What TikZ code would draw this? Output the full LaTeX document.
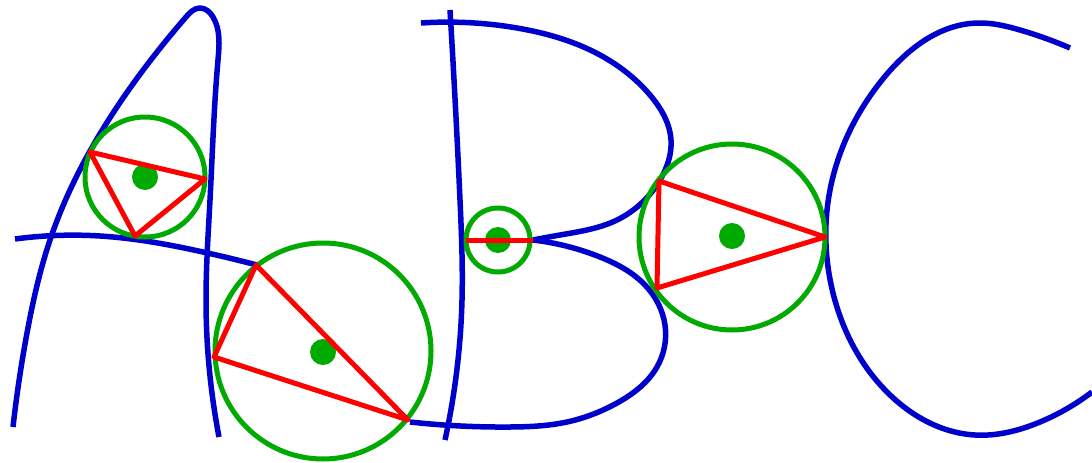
\documentclass[tikz,border=0pt]{standalone}
\usetikzlibrary{hobby}
\begin{document}
\begin{tikzpicture}[x=1pt,y=-1pt,line join=round]
\definecolor{lblue}{RGB}{0,0,205}
\definecolor{lgreen}{RGB}{0,170,0}
\definecolor{lred}{RGB}{255,0,0}
\tikzset{letter/.style={draw=lblue,line width=5.5pt,use Hobby shortcut},
  circ/.style={draw=lgreen,line width=5pt},
  dot/.style={fill=lgreen},
  tri/.style={draw=lred,line width=5pt}}
\useasboundingbox (0,0) rectangle (1092,463);
% Letter A
\draw[letter] (13,427) .. (27,333) .. (50,240) .. (117,107) .. (186,17) .. (200,8) .. (213,17) .. (218,60) .. (210,200) .. (206,300) .. (219,437);
\draw[letter] (15,239) .. (100,236) .. (203,252) .. (257,265);
% Letter B
\draw[letter] (450,10) .. (460,200) .. (462,300) .. (445,440);
\draw[letter] (421,23) .. (517,28) .. (600,55) .. (650,95) .. (671,140) .. (660,180) .. (617,220) .. (560,235) .. (533,240);
\draw[letter] (533,240) .. (600,257) .. (645,285) .. (665,325) .. (657,367) .. (617,403) .. (567,422) .. (510,427) .. (410,422);
% Letter C
\draw[letter] (1070,48) .. (1020,30) .. (978,23) .. (882,80) .. (830,190) .. (833,293) .. (888,393) .. (975,435) .. (1040,422) .. (1092,392);
% Circles
\draw[circ] (145,177) circle (60);
\fill[dot] (145,177) circle (13);
\draw[tri] (90,152) -- (205,179) -- (135,236) -- cycle;
\draw[circ] (323,351) circle (108);
\fill[dot] (323,352) circle (13);
\draw[tri] (256,265) -- (214,357) -- (408,420) -- cycle;
\draw[circ] (498,240) circle (32);
\fill[dot] (498,240) circle (13);
\draw[tri] (466,240) -- (533,240);
\draw[circ] (732,237) circle (93);
\fill[dot] (732,236) circle (13);
\draw[tri] (659,181) -- (657,288) -- (825,237) -- cycle;
\end{tikzpicture}
\end{document}
